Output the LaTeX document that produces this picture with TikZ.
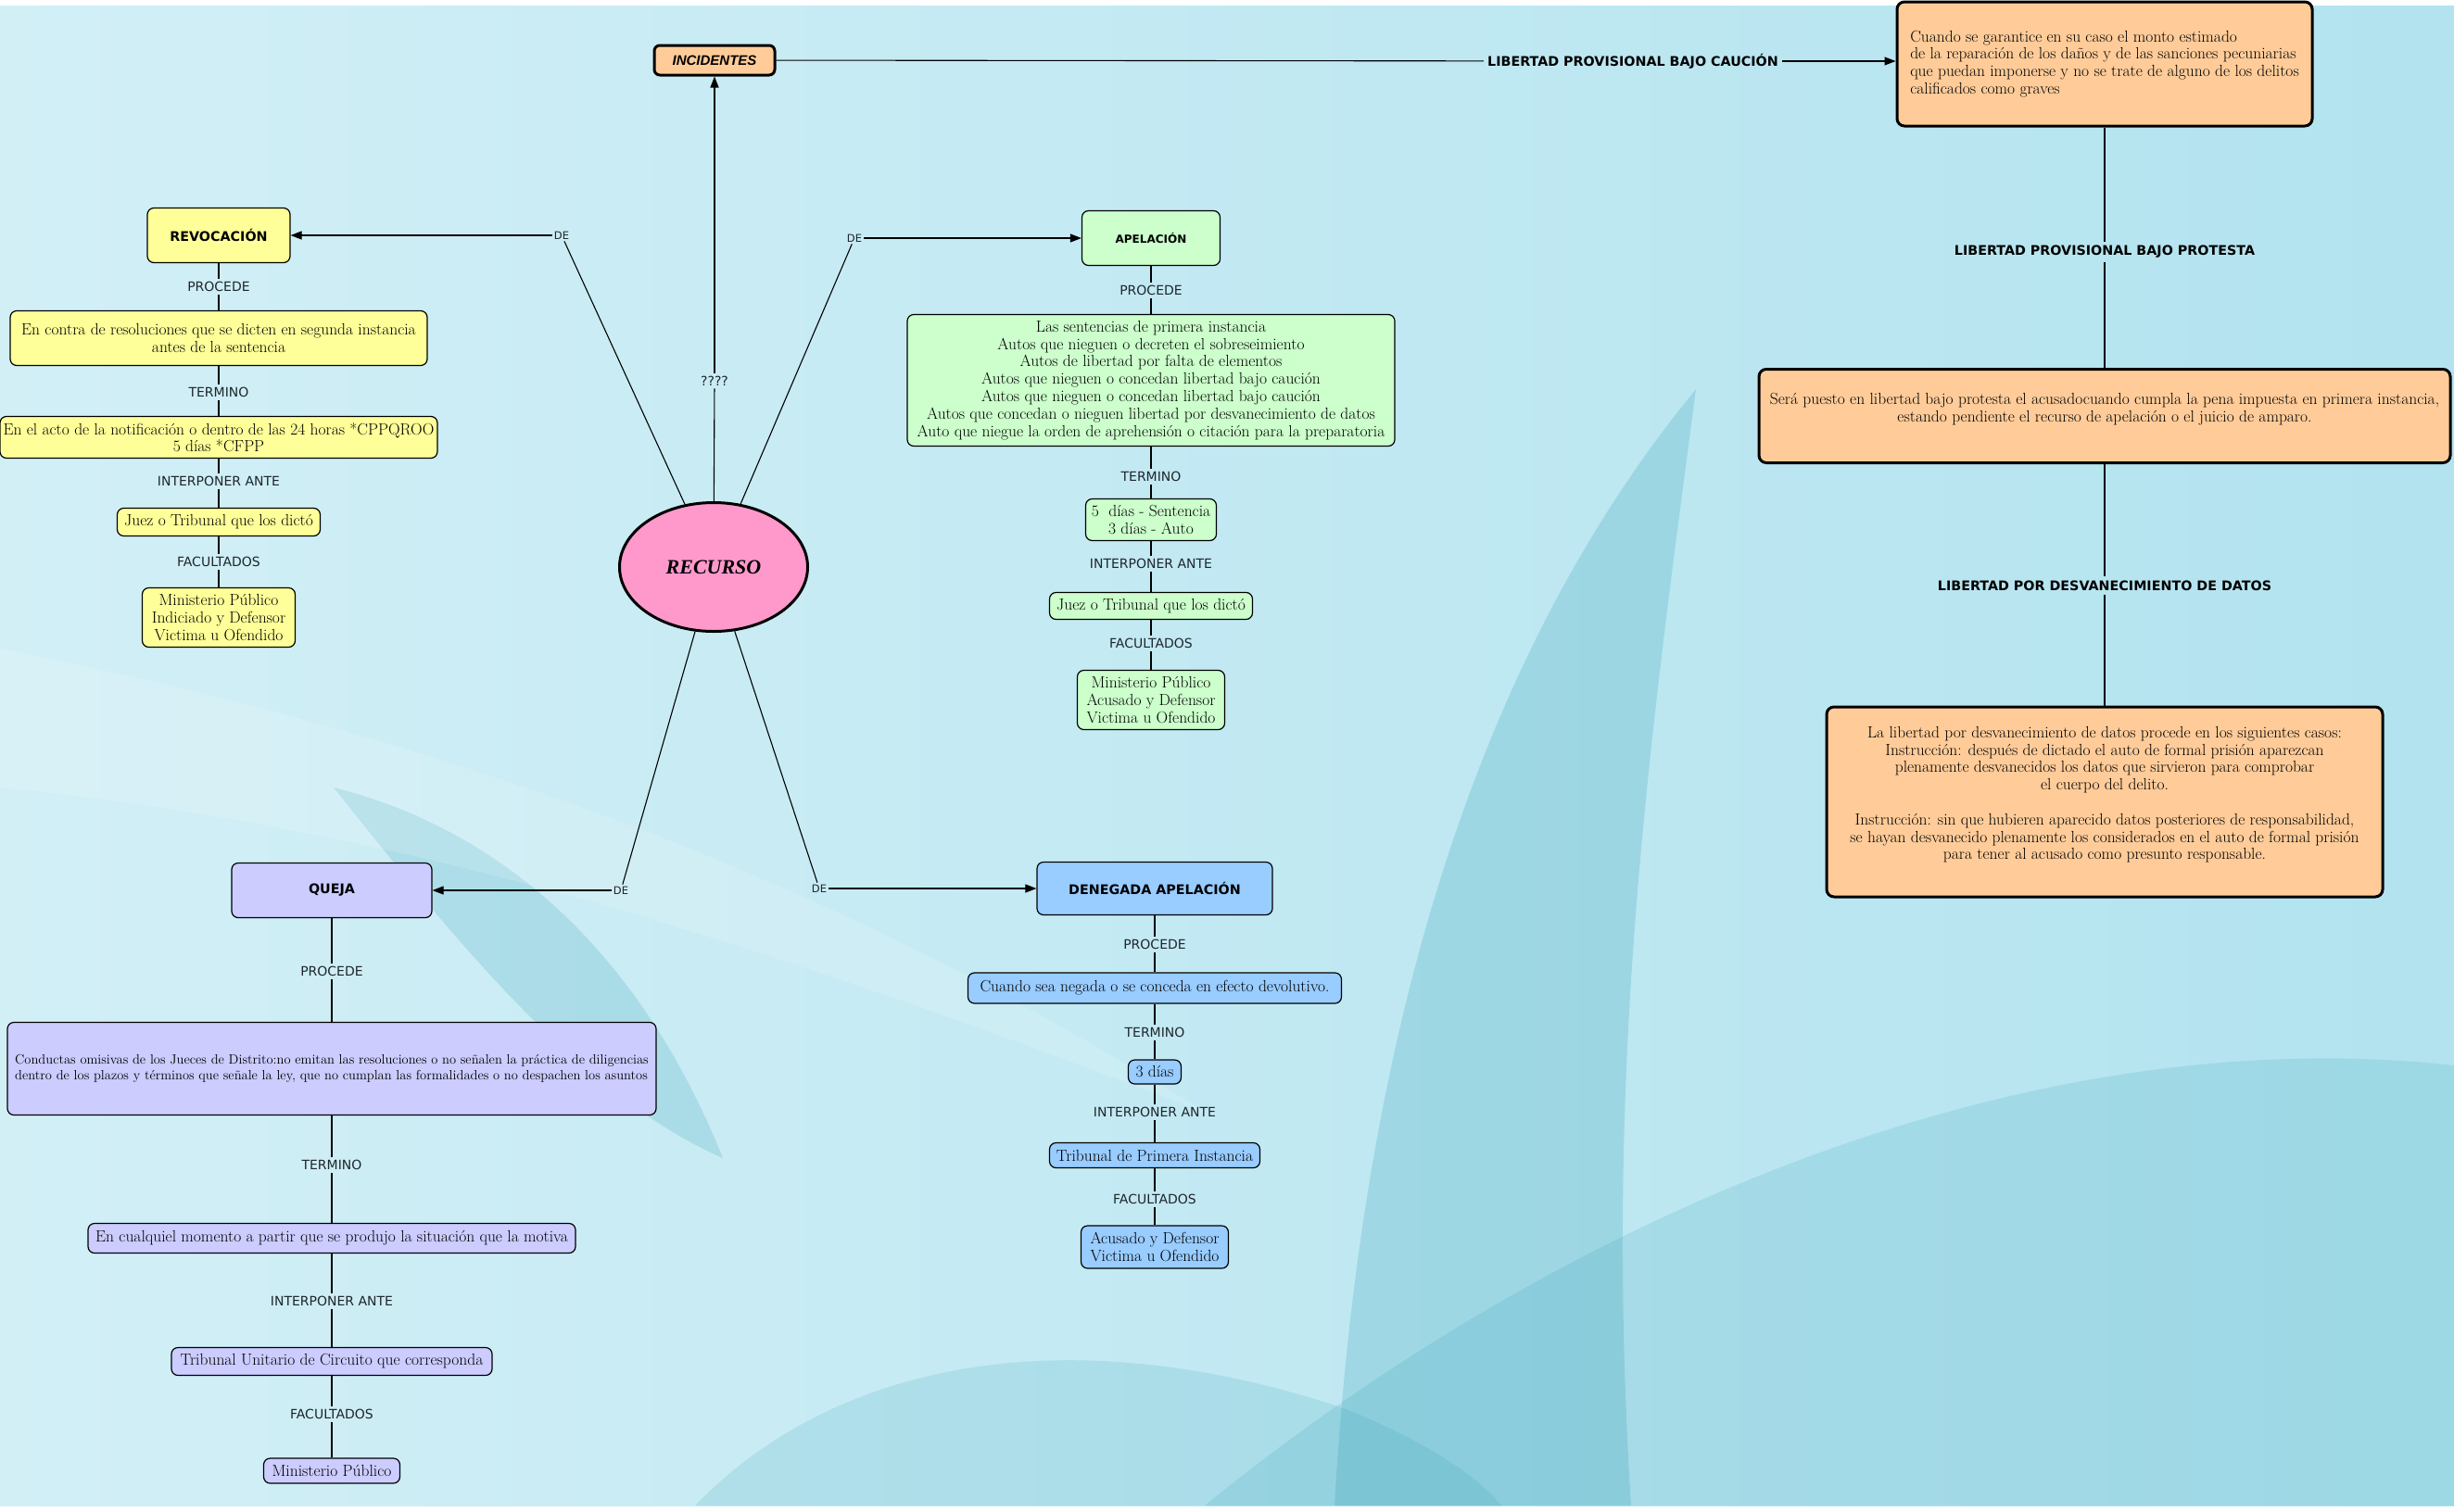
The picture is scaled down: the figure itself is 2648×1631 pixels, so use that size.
\documentclass[tikz,border=0pt]{standalone}
\usepackage{fontspec}
\usetikzlibrary{positioning, shapes, arrows.meta}

\newfontfamily\linkfamily{DejaVu Sans}
\newfontfamily\headfamily{Liberation Sans}
\newfontfamily\scriptfamily{Liberation Serif}

\definecolor{revyellow}{RGB}{255,255,153}
\definecolor{apelgreen}{RGB}{204,255,204}
\definecolor{quejalila}{RGB}{204,204,255}
\definecolor{denblue}{RGB}{153,204,255}
\definecolor{libpeach}{RGB}{255,204,153}
\definecolor{recpink}{RGB}{255,153,204}
\definecolor{linkink}{RGB}{30,38,44}
\definecolor{bglight}{RGB}{210,239,246}
\definecolor{bgmid}{RGB}{178,227,239}
\definecolor{bgdeep}{RGB}{30,150,175}

\newcommand{\bodytext}{\fontsize{17.5}{18.8}\selectfont}
\newcommand{\smalltext}{\fontsize{14.5}{17}\selectfont}
\newcommand{\linktext}{\linkfamily\fontsize{14}{16}\selectfont}
\newcommand{\detext}{\linkfamily\fontsize{11.5}{13}\selectfont}
\newcommand{\titletext}{\linkfamily\bfseries\fontsize{14.3}{16}\selectfont}

\begin{document}
\begin{tikzpicture}[x=1pt, y=-1pt, on grid, >={Triangle[length=12pt,width=9pt]},
  concept/.style={draw, rounded corners=7pt, line width=1.2pt, align=center, inner sep=2pt, font=\bodytext},
  revbox/.style={concept, fill=revyellow},
  apelbox/.style={concept, fill=apelgreen},
  quejabox/.style={concept, fill=quejalila},
  denbox/.style={concept, fill=denblue},
  libbox/.style={concept, fill=libpeach, line width=3pt, rounded corners=8pt},
  head/.style={font=\titletext},
  link/.style={font=\linktext, text=linkink, inner sep=3pt},
  delink/.style={font=\detext, text=linkink, inner sep=2pt},
  liblink/.style={font=\titletext, inner sep=4pt},
  wire/.style={line width=1.1pt}]

\useasboundingbox (0,0) rectangle (2648,1631);

% background
\fill[white] (0,0) rectangle (2648,1631);
\shade[left color=bglight, right color=bgmid] (0,6) rectangle (2648,1625);
\fill[bgdeep, opacity=.20] (1440,1625) .. controls (1470,1100) and (1600,700) .. (1830,420) .. controls (1780,800) and (1730,1150) .. (1760,1625) -- cycle;
\fill[bgdeep, opacity=.14] (1300,1625) .. controls (1700,1300) and (2200,1100) .. (2648,1150) -- (2648,1625) -- cycle;
\fill[bgdeep, opacity=.14] (750,1625) .. controls (900,1470) and (1150,1420) .. (1450,1520) .. controls (1550,1560) and (1600,1600) .. (1620,1625) -- cycle;
\fill[bgdeep, opacity=.18] (360,850) .. controls (560,900) and (700,1050) .. (780,1250) .. controls (620,1180) and (480,1000) .. (360,850) -- cycle;
\fill[white, opacity=.15] (0,700) .. controls (500,800) and (900,950) .. (1300,1200) .. controls (900,1050) and (500,900) .. (0,850) -- cycle;

% centre
\node[ellipse, draw, fill=recpink, line width=3pt, minimum width=203pt, minimum height=139pt, inner sep=0pt, font=\scriptfamily\bfseries\itshape\fontsize{22}{24}\selectfont] (recurso) at (770,612) {RECURSO};
\node[libbox, minimum width=130pt, minimum height=32pt, rounded corners=6pt, font=\headfamily\bfseries\itshape\fontsize{15}{17}\selectfont] (inc) at (771,65) {INCIDENTES};
\node[link] (qq) at (771,411) {????};
\node[delink] (deRev) at (606,254) {DE};
\node[delink] (deApel) at (922,257) {DE};
\node[delink] (deQueja) at (670,961) {DE};
\node[delink] (deDen) at (884,959) {DE};

% revocacion
\node[revbox, head, minimum width=154pt, minimum height=59pt] (rev) at (236,254) {REVOCACIÓN};
\node[link, below=55.5pt of rev] (revP) {PROCEDE};
\node[revbox, below=55.5pt of revP, minimum width=450pt, minimum height=59pt] (revProc) {En contra de resoluciones que se dicten en segunda instancia\\antes de la sentencia};
\node[link, below=58.5pt of revProc] (revT) {TERMINO};
\node[revbox, below=48.5pt of revT, minimum width=472pt, minimum height=45pt] (revTerm) {En el acto de la notificación o dentro de las 24 horas *CPPQROO\\5 días *CFPP};
\node[link, below=47.5pt of revTerm] (revA) {INTERPONER ANTE};
\node[revbox, below=44pt of revA, minimum width=219pt, minimum height=30pt] (revAnte) {Juez o Tribunal que los dictó};
\node[link, below=43pt of revAnte] (revF) {FACULTADOS};
\node[revbox, below=60pt of revF, minimum width=165pt, minimum height=64pt] (revFac) {Ministerio Público\\Indiciado y Defensor\\Victima u Ofendido};

% apelacion
\node[apelbox, head, font=\linkfamily\bfseries\fontsize{12}{14}\selectfont, minimum width=149pt, minimum height=59pt] (apel) at (1242,257) {APELACIÓN};
\node[link, below=56.5pt of apel] (apelP) {PROCEDE};
\node[apelbox, below=97pt of apelP, minimum width=526pt, minimum height=142pt] (apelProc) {Las sentencias de primera instancia\\Autos que nieguen o decreten el sobreseimiento\\Autos de libertad por falta de elementos\\Autos que nieguen o concedan libertad bajo caución\\Autos que nieguen o concedan libertad bajo caución\\Autos que concedan o nieguen libertad por desvanecimiento de datos\\Auto que niegue la orden de aprehensión o citación para la preparatoria};
\node[link, below=104pt of apelProc] (apelT) {TERMINO};
\node[apelbox, below=46.5pt of apelT, minimum width=141pt, minimum height=45pt] (apelTerm) {5~ días - Sentencia\\3 días - Auto};
\node[link, below=47.5pt of apelTerm] (apelA) {INTERPONER ANTE};
\node[apelbox, below=45.5pt of apelA, minimum width=219pt, minimum height=29pt] (apelAnte) {Juez o Tribunal que los dictó};
\node[link, below=40.5pt of apelAnte] (apelF) {FACULTADOS};
\node[apelbox, below=61pt of apelF, minimum width=159pt, minimum height=64pt] (apelFac) {Ministerio Público\\Acusado y Defensor\\Victima u Ofendido};

% queja
\node[quejabox, head, minimum width=216pt, minimum height=59pt] (queja) at (358,961) {QUEJA};
\node[link, below=87pt of queja] (quejaP) {PROCEDE};
\node[quejabox, below=105.5pt of quejaP, align=left, font=\smalltext, minimum width=700pt, minimum height=100pt] (quejaProc) {Conductas omisivas de los Jueces de Distrito:no emitan las resoluciones o no señalen la práctica de diligencias\\dentro de los plazos y términos que señale la ley, que no cumplan las formalidades o no despachen los asuntos};
\node[link, below=104pt of quejaProc] (quejaT) {TERMINO};
\node[quejabox, below=79pt of quejaT, minimum width=526pt, minimum height=32pt] (quejaTerm) {En cualquiel momento a partir que se produjo la situación que la motiva};
\node[link, below=68pt of quejaTerm] (quejaA) {INTERPONER ANTE};
\node[quejabox, below=65pt of quejaA, minimum width=346pt, minimum height=30pt] (quejaAnte) {Tribunal Unitario de Circuito que corresponda};
\node[link, below=57pt of quejaAnte] (quejaF) {FACULTADOS};
\node[quejabox, below=61pt of quejaF, minimum width=147pt, minimum height=27pt] (quejaFac) {Ministerio Público};

% denegada apelacion
\node[denbox, head, minimum width=254pt, minimum height=57pt] (den) at (1246,959) {DENEGADA APELACIÓN};
\node[link, below=60pt of den] (denP) {PROCEDE};
\node[denbox, below=47.5pt of denP, minimum width=403pt, minimum height=33pt] (denProc) {Cuando sea negada o se conceda en efecto devolutivo.};
\node[link, below=47.5pt of denProc] (denT) {TERMINO};
\node[denbox, below=43pt of denT, minimum width=57pt, minimum height=26pt] (denTerm) {3 días};
\node[link, below=43pt of denTerm] (denA) {INTERPONER ANTE};
\node[denbox, below=47pt of denA, minimum width=227pt, minimum height=27pt] (denAnte) {Tribunal de Primera Instancia};
\node[link, below=47pt of denAnte] (denF) {FACULTADOS};
\node[denbox, below=52pt of denF, minimum width=159pt, minimum height=46pt] (denFac) {Acusado y Defensor\\Victima u Ofendido};

% libertad
\node[libbox, align=left, minimum width=448pt, minimum height=134pt] (cauBox) at (2271,69) {Cuando se garantice en su caso el monto estimado\\de la reparación de los daños y de las sanciones pecuniarias\\que puedan imponerse y no se trate de alguno de los delitos\\calificados como graves};
\node[liblink] (lpbc) at (1762,66) {LIBERTAD PROVISIONAL BAJO CAUCIÓN};
\node[liblink, below=203pt of cauBox] (lpbp) {LIBERTAD PROVISIONAL BAJO PROTESTA};
\node[libbox, below=177pt of lpbp, minimum width=746pt, minimum height=101pt] (protBox) {Será puesto en libertad bajo protesta el acusadocuando cumpla la pena impuesta en primera instancia,\\estando pendiente el recurso de apelación o el juicio de amparo.\\\mbox{}};
\node[liblink, below=183pt of protBox] (lpdd) {LIBERTAD POR DESVANECIMIENTO DE DATOS};
\node[libbox, below=233.5pt of lpdd, minimum width=600pt, minimum height=205pt] (desBox) {La libertad por desvanecimiento de datos procede en los siguientes casos:\\Instrucción: después de dictado el auto de formal prisión aparezcan\\plenamente desvanecidos los datos que sirvieron para comprobar\\el cuerpo del delito.\\\mbox{}\\Instrucción: sin que hubieren aparecido datos posteriores de responsabilidad,\\se hayan desvanecido plenamente los considerados en el auto de formal prisión\\para tener al acusado como presunto responsable.\\\mbox{}};

% connectors
\draw[wire] (recurso) -- (qq);
\draw[wire, ->] (qq) -- (inc);
\draw[wire] (recurso) -- (deRev);
\draw[wire, ->] (deRev) -- (rev);
\draw[wire] (recurso) -- (deApel);
\draw[wire, ->] (deApel) -- (apel);
\draw[wire] (recurso) -- (deQueja);
\draw[wire, ->] (deQueja) -- (queja);
\draw[wire] (recurso) -- (deDen);
\draw[wire, ->] (deDen) -- (den);
\draw[wire] (inc) -- (lpbc);
\draw[wire, ->] (lpbc) -- (lpbc -| cauBox.west);
\draw[wire] (cauBox) -- (lpbp) -- (protBox) -- (lpdd) -- (desBox);
\draw[wire] (rev) -- (revP) -- (revProc) -- (revT) -- (revTerm) -- (revA) -- (revAnte) -- (revF) -- (revFac);
\draw[wire] (apel) -- (apelP) -- (apelProc) -- (apelT) -- (apelTerm) -- (apelA) -- (apelAnte) -- (apelF) -- (apelFac);
\draw[wire] (queja) -- (quejaP) -- (quejaProc) -- (quejaT) -- (quejaTerm) -- (quejaA) -- (quejaAnte) -- (quejaF) -- (quejaFac);
\draw[wire] (den) -- (denP) -- (denProc) -- (denT) -- (denTerm) -- (denA) -- (denAnte) -- (denF) -- (denFac);
\end{tikzpicture}
\end{document}
